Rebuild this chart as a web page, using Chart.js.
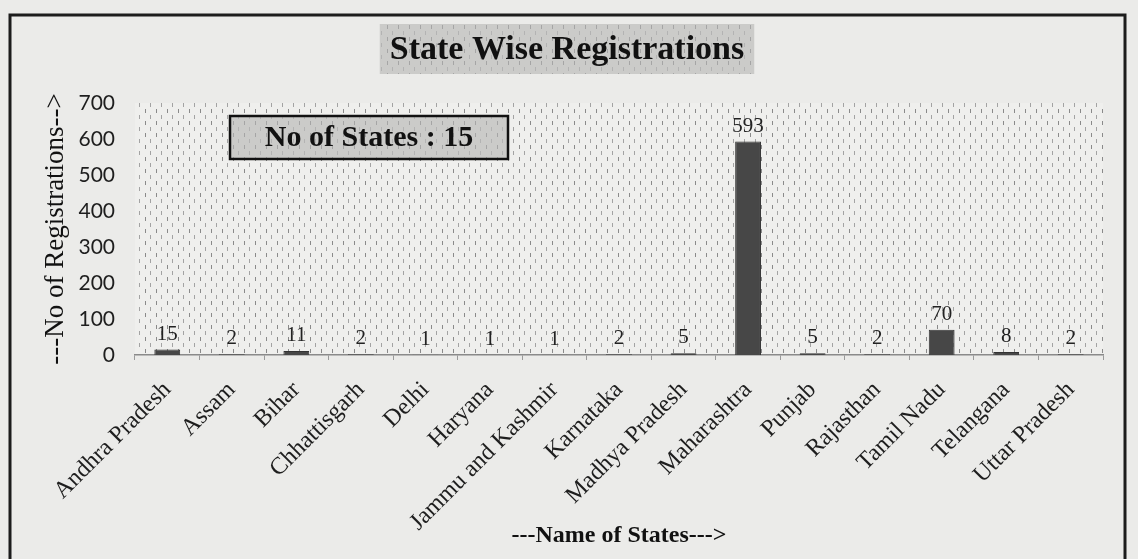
<!DOCTYPE html>
<html>
<head>
<meta charset="utf-8">
<script src="https://cdn.jsdelivr.net/npm/chart.js@4.4.1/dist/chart.umd.min.js"></script>
<style>
  body { margin: 0; background: #e9e9e7; }
  canvas { display: block; }
</style>
</head>
<body>
<canvas id="stateGrafic" width="1138" height="559"></canvas>
<script>
var states = ['Andhra Pradesh', 'Assam', 'Bihar', 'Chhattisgarh', 'Delhi', 'Haryana',
  'Jammu and Kashmir', 'Karnataka', 'Madhya Pradesh', 'Maharashtra', 'Punjab',
  'Rajasthan', 'Tamil Nadu', 'Telangana', 'Uttar Pradesh'];
var registrations = [15, 2, 11, 2, 1, 1, 1, 2, 5, 593, 5, 2, 70, 8, 2];
var yTicks = [0, 100, 200, 300, 400, 500, 600, 700];
var chartTitle = 'State Wise Registrations';

// pontilhado do fundo (imitando o padrao da impressao)
function makePattern(bg, dot1, dot2) {
  var c = document.createElement('canvas');
  c.width = 11; c.height = 12;
  var g = c.getContext('2d');
  g.fillStyle = bg; g.fillRect(0, 0, 11, 12);
  g.fillStyle = dot1; g.fillRect(2, 1, 1, 4);
  g.fillStyle = dot2; g.fillRect(7, 7, 1, 4);
  return document.createElement('canvas').getContext('2d').createPattern(c, 'repeat');
}
var ctx = document.getElementById('stateGrafic');
var plotPattern = makePattern('#efefed', '#8a8a8a', '#a3a3a3');
var boxPattern = makePattern('#cbcbc9', '#a5a5a5', '#b3b3b3');

var decoPlugin = {
  id: 'deco',
  beforeDraw: function (chart) {
    var c = chart.ctx, a = chart.chartArea;
    c.save();
    c.fillStyle = '#ebebe9';
    c.fillRect(0, 0, chart.width, chart.height);
    c.lineWidth = 3;
    c.strokeStyle = '#1c1c1c';
    c.strokeRect(10, 15, 1115, 600);
    // fundo da area do grafico
    c.fillStyle = plotPattern;
    c.fillRect(a.left, a.top, a.right - a.left, a.bottom - a.top);
    // titulo com caixa
    c.font = 'bold 34px "Liberation Serif"';
    var w = c.measureText(chartTitle).width + 20;
    var cx = 567;
    c.fillStyle = boxPattern;
    c.fillRect(cx - w / 2, 24, w, 50);
    c.fillStyle = '#111';
    c.textAlign = 'center';
    c.textBaseline = 'middle';
    c.fillText(chartTitle, cx, 50);
    c.restore();
  },
  afterDatasetsDraw: function (chart) {
    var c = chart.ctx, a = chart.chartArea;
    var meta = chart.getDatasetMeta(0);
    c.save();
    c.font = '21px "Liberation Serif"';
    c.fillStyle = '#222';
    c.textAlign = 'center';
    c.textBaseline = 'bottom';
    meta.data.forEach(function (bar, i) {
      c.fillText(registrations[i], bar.x, bar.y - 5);
    });
    // caixa "No of States"
    var bx = a.left + 95, by = a.top + 13, bw = 278, bh = 43;
    c.fillStyle = boxPattern;
    c.fillRect(bx, by, bw, bh);
    c.lineWidth = 2.5;
    c.strokeStyle = '#111';
    c.strokeRect(bx, by, bw, bh);
    c.font = 'bold 30px "Liberation Serif"';
    c.fillStyle = '#111';
    c.textBaseline = 'middle';
    c.fillText('No of States : ' + states.length, bx + bw / 2, by + bh / 2 + 1);
    c.restore();
  }
};

var myBarChart = new Chart(ctx, {
  type: 'bar',
  data: {
    labels: states,
    datasets: [{
      data: registrations,
      backgroundColor: '#474747',
      borderColor: '#333',
      borderWidth: 1,
      barPercentage: 0.4,
      categoryPercentage: 1
    }]
  },
  options: {
    responsive: false,
    animation: false,
    layout: { padding: { left: 12, right: 35, top: 103, bottom: 8 } },
    plugins: {
      legend: { display: false },
      tooltip: { enabled: false },
      title: { display: false }
    },
    scales: {
      x: {
        afterFit: function (s) { s.height = 196; },
        border: { color: '#8a8a8a', width: 1.5 },
        grid: { drawOnChartArea: false, tickLength: 5, color: '#9a9a9a' },
        ticks: {
          autoSkip: false, minRotation: 45, maxRotation: 45,
          color: '#1e1e1e', padding: 16,
          font: { family: 'Liberation Serif', size: 24 }
        },
        title: {
          display: true, text: '---Name of States--->', color: '#111',
          font: { family: 'Liberation Serif', size: 24, weight: 'bold' },
          padding: { top: 0, bottom: 1 }
        }
      },
      y: {
        min: 0, max: 700,
        afterFit: function (s) { s.width = 123; },
        afterBuildTicks: function (s) { s.ticks = yTicks.map(function (v) { return { value: v }; }); },
        border: { display: false },
        grid: { display: false },
        ticks: { color: '#1e1e1e', padding: 12, font: { family: 'Lato', size: 21 } },
        title: {
          display: true, text: '---No of Registrations-->', color: '#111',
          font: { family: 'Liberation Serif', size: 27 },
          padding: { top: 28, bottom: 0 }
        }
      }
    }
  },
  plugins: [decoPlugin]
});
</script>
</body>
</html>
